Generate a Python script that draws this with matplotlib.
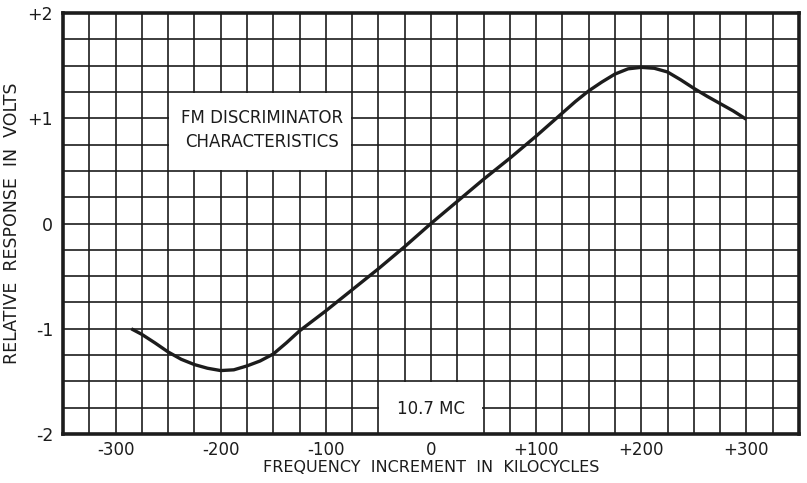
import numpy as np
import matplotlib
matplotlib.use("Agg")
import matplotlib.pyplot as plt
from matplotlib.patches import Rectangle

# Data
freq_kc = [-285, -275, -262.5, -250, -237.5, -225, -212.5, -200, -187.5, -175,
           -162.5, -150, -137.5, -125, -112.5, -100, -75, -50, -25,
           0, 25, 50, 75, 100, 112.5, 125, 137.5, 150, 162.5, 175, 187.5, 200,
           212.5, 225, 237.5, 250, 262.5, 275, 287.5, 300]
response_v = [-1.0, -1.053, -1.134, -1.22, -1.29, -1.34, -1.375, -1.397, -1.39, -1.353,
              -1.306, -1.24, -1.134, -1.02, -0.925, -0.83, -0.63, -0.43, -0.22,
              0.0, 0.21, 0.42, 0.62, 0.83, 0.94, 1.05, 1.16, 1.26, 1.344, 1.42, 1.47, 1.484,
              1.475, 1.44, 1.366, 1.285, 1.21, 1.14, 1.07, 0.99]

x_ticks = [-300, -200, -100, 0, 100, 200, 300]
x_tick_labels = ["-300", "-200", "-100", "0", "+100", "+200", "+300"]
y_ticks = [-2, -1, 0, 1, 2]
y_tick_labels = ["-2", "-1", "0", "+1", "+2"]

INK = "#1c1c1c"
plt.rcParams['font.family'] = ['DejaVu Sans']

fig = plt.figure(figsize=(8.07, 4.83), dpi=100)
ax = fig.add_axes([0.078, 0.1014, 0.912, 0.8716])
ax.set_xlim(-350, 350)
ax.set_ylim(-2, 2)

# grid
ax.set_xticks(np.arange(-325, 326, 25), minor=True)
ax.set_yticks(np.arange(-1.75, 1.76, 0.25), minor=True)
ax.set_xticks(x_ticks)
ax.set_xticklabels(x_tick_labels)
ax.set_yticks(y_ticks)
ax.set_yticklabels(y_tick_labels)
ax.grid(which='both', color=INK, linewidth=1.2, zorder=1)
ax.set_axisbelow(True)
ax.tick_params(which='both', length=0)
ax.tick_params(axis='x', pad=5, labelsize=12, colors=INK)
ax.tick_params(axis='y', pad=7, labelsize=12.5, colors=INK)
for s in ax.spines.values():
    s.set_linewidth(2.6)
    s.set_color(INK)

# white label boxes
ax.add_patch(Rectangle((-249, 0.505), 173, 0.74, facecolor='white', edgecolor='none', zorder=2))
ax.add_patch(Rectangle((-49, -1.995), 98, 0.49, facecolor='white', edgecolor='none', zorder=2))
ax.text(-161, 1.0, "FM DISCRIMINATOR", ha='center', va='center', fontsize=12,
        color=INK, zorder=3)
ax.text(-161, 0.77, "CHARACTERISTICS", ha='center', va='center', fontsize=12,
        color=INK, zorder=3)
ax.text(0, -1.76, "10.7 MC", ha='center', va='center', fontsize=12, color=INK, zorder=3)

# curve
ax.plot(freq_kc, response_v, color=INK, linewidth=2.4, solid_joinstyle='round',
        solid_capstyle='butt', zorder=4)

ax.set_xlabel("FREQUENCY  INCREMENT  IN  KILOCYCLES", fontsize=11.5, color=INK, labelpad=1)
ax.set_ylabel("RELATIVE  RESPONSE  IN  VOLTS", fontsize=12.5, color=INK, labelpad=5)

fig.savefig("out.png", dpi=100, facecolor='white')
